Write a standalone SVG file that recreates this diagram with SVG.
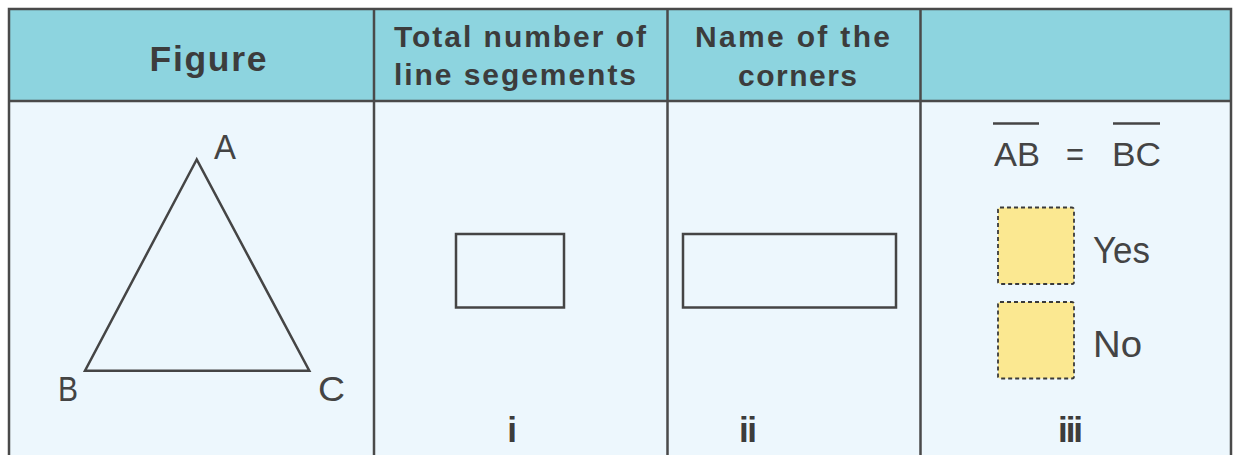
<svg xmlns="http://www.w3.org/2000/svg" width="1237" height="455" viewBox="0 0 1237 455">
<style>
.hdr{fill:#8dd4df}
.body{fill:#edf7fd}
.grid{stroke:#4a4a4a;stroke-width:2.5;fill:none}
.shape{stroke:#454545;stroke-width:2.5;fill:none}
.ht{font-family:"Liberation Sans",Arial,sans-serif;font-weight:bold;fill:#3c3c3c}
.lt{font-family:"Liberation Sans",Arial,sans-serif;fill:#444;font-weight:normal}
.box{fill:#fbe891;stroke:#3a3a3a;stroke-width:1.8;stroke-dasharray:4 3}
</style>
<rect width="1237" height="455" fill="#ffffff"/>
<g id="table">
<rect class="hdr" x="9" y="9" width="1222" height="92"/>
<rect class="body" x="9" y="101" width="1222" height="360"/>
<path class="grid" d="M9,470 V9 H1231 V470 M9,101 H1231 M374,9 V470 M667.5,9 V470 M920.5,9 V470"/>
</g>
<g id="header-figure">
<text class="ht" x="208" y="70.5" font-size="35.5" text-anchor="middle" textLength="117" lengthAdjust="spacing">Figure</text>
</g>
<g id="header-total">
<text class="ht" x="394" y="47" font-size="30" textLength="252" lengthAdjust="spacing">Total number of</text>
<text class="ht" x="394" y="85" font-size="30" textLength="242" lengthAdjust="spacing">line segements</text>
</g>
<g id="header-name">
<text class="ht" x="695" y="47" font-size="30" textLength="195" lengthAdjust="spacing">Name of the</text>
<text class="ht" x="738" y="86" font-size="30" textLength="119" lengthAdjust="spacing">corners</text>
</g>
<g id="triangle">
<polygon class="shape" points="196.7,159.5 85,370.7 309.3,370.7" stroke-linejoin="miter"/>
<text class="lt" x="214" y="159" font-size="35" textLength="22" lengthAdjust="spacingAndGlyphs">A</text>
<text class="lt" x="58" y="401" font-size="35" textLength="20" lengthAdjust="spacingAndGlyphs">B</text>
<text class="lt" x="318" y="401" font-size="35" textLength="27" lengthAdjust="spacingAndGlyphs">C</text>
</g>
<g id="cell-i">
<rect class="shape" x="456" y="234" width="108" height="73.5"/>
<text class="ht" x="512" y="442" font-size="35" text-anchor="middle">i</text>
</g>
<g id="cell-ii">
<rect class="shape" x="683" y="234" width="213" height="73.5"/>
<text class="ht" x="739" y="442" font-size="35" textLength="18" lengthAdjust="spacing">ii</text>
</g>
<g id="cell-iii">
<line class="shape" x1="993" y1="123.5" x2="1039" y2="123.5" stroke-width="2"/>
<line class="shape" x1="1113" y1="123.5" x2="1160" y2="123.5" stroke-width="2"/>
<text class="lt" x="994" y="166" font-size="33" textLength="46" lengthAdjust="spacingAndGlyphs">AB</text>
<text class="lt" x="1066" y="166" font-size="33" textLength="18" lengthAdjust="spacingAndGlyphs">=</text>
<text class="lt" x="1112" y="166" font-size="33" textLength="49" lengthAdjust="spacingAndGlyphs">BC</text>
<rect class="box" x="998" y="207.5" width="76" height="76.5" rx="2"/>
<text class="lt" x="1093" y="263" font-size="37" textLength="57" lengthAdjust="spacingAndGlyphs">Yes</text>
<rect class="box" x="998" y="302" width="76" height="76.5" rx="2"/>
<text class="lt" x="1093" y="357" font-size="37" textLength="49" lengthAdjust="spacingAndGlyphs">No</text>
<text class="ht" x="1058" y="442" font-size="35" textLength="25" lengthAdjust="spacing">iii</text>
</g>
</svg>
